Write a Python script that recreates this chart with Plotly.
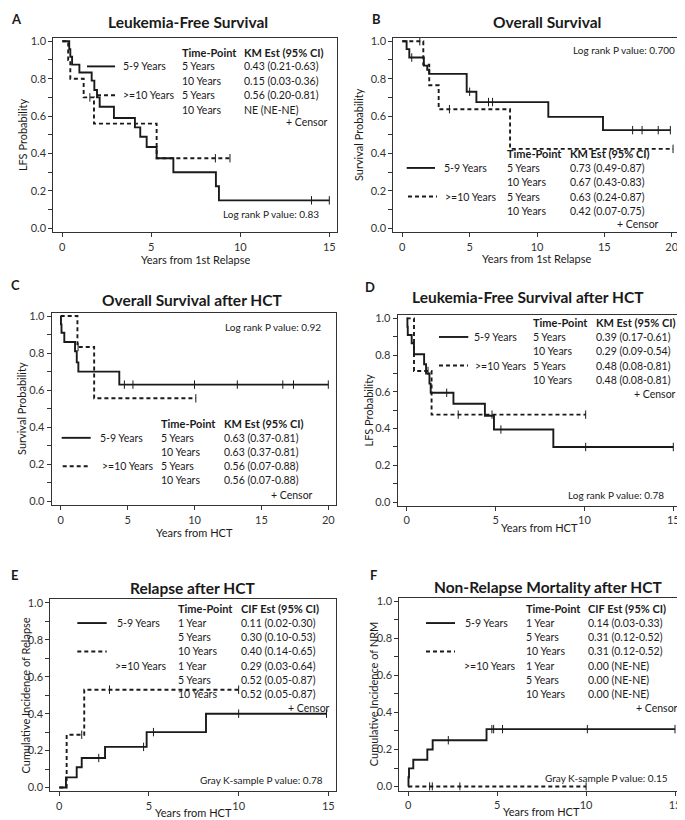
import plotly.graph_objects as go
import numpy as np

# the page body has an 8px margin, so the figure is drawn 8px in from the corner
PAGE_W, PAGE_H, OFF = 685, 820, 8
W, H = PAGE_W - OFF, PAGE_H - OFF
FONT = "Lato"
INK = "#1a1a1a"

# ---------------- data ----------------
# A: Leukemia-free survival from 1st relapse
a_solid_t = [0, 0.39, 0.45, 0.55, 0.96, 1.65, 1.8, 1.95, 2.1, 2.9, 4.08, 4.38, 4.74, 5.3, 6.24, 8.63, 8.8, 15.0]
a_solid_s = [1.0, 0.958, 0.917, 0.875, 0.833, 0.79, 0.74, 0.70, 0.65, 0.59, 0.54, 0.49, 0.435, 0.375, 0.30, 0.225, 0.15, 0.15]
a_solid_c = [14.0, 15.0]
a_dash_t = [0, 0.33, 0.45, 1.2, 1.78, 5.3, 9.42]
a_dash_s = [1.0, 0.9, 0.8, 0.7, 0.56, 0.375, 0.375]
a_dash_c = [1.55, 8.6, 9.42]

# B: Overall survival from 1st relapse
b_solid_t = [0, 0.32, 0.52, 1.6, 1.85, 2.0, 4.78, 5.5, 10.84, 14.9, 19.9]
b_solid_s = [1.0, 0.958, 0.913, 0.87, 0.848, 0.826, 0.73, 0.675, 0.596, 0.525, 0.525]
b_solid_c = [0.7, 5.0, 6.4, 6.7, 17.1, 17.8, 19.0, 19.9]
b_dash_t = [0, 1.56, 2.0, 2.7, 8.0, 20.1]
b_dash_s = [1.0, 0.875, 0.765, 0.637, 0.425, 0.425]
b_dash_c = [1.3, 3.5, 20.1]

# C: Overall survival after HCT
c_solid_t = [0, 0.02, 0.06, 0.27, 1.07, 1.2, 1.32, 4.38, 20.0]
c_solid_s = [1.0, 0.955, 0.91, 0.86, 0.81, 0.75, 0.70, 0.63, 0.63]
c_solid_c = [4.76, 5.4, 10.0, 13.2, 16.6, 17.4, 20.0]
c_dash_t = [0, 1.25, 2.5, 10.1]
c_dash_s = [1.0, 0.833, 0.556, 0.556]
c_dash_c = [1.3, 10.1]

# D: Leukemia-free survival after HCT
d_solid_t = [0, 0.04, 0.06, 0.28, 0.41, 0.98, 1.09, 1.28, 1.35, 2.63, 4.4, 4.91, 8.25, 15.0]
d_solid_s = [1.0, 0.955, 0.91, 0.865, 0.805, 0.75, 0.70, 0.645, 0.595, 0.535, 0.47, 0.395, 0.30, 0.30]
d_solid_c = [2.25, 5.3, 10.07, 15.0]
d_dash_t = [0, 0.41, 1.4, 10.07]
d_dash_s = [1.0, 0.714, 0.476, 0.476]
d_dash_c = [1.2, 2.9, 4.8, 10.07]

# E: Relapse after HCT (cumulative incidence)
e_solid_t = [0, 0.37, 0.97, 1.25, 2.55, 4.87, 8.18, 14.9]
e_solid_s = [0.0, 0.055, 0.11, 0.16, 0.22, 0.30, 0.40, 0.40]
e_solid_c = [2.2, 4.7, 5.25, 10.0, 14.9]
e_dash_t = [0, 0.41, 1.39, 10.0]
e_dash_s = [0.0, 0.286, 0.53, 0.53]
e_dash_c = [1.25, 2.8, 10.0]

# F: Non-relapse mortality after HCT (cumulative incidence)
f_solid_t = [0, 0.01, 0.04, 0.28, 1.07, 1.37, 4.4, 15.0]
f_solid_s = [0.0, 0.05, 0.098, 0.145, 0.20, 0.25, 0.31, 0.31]
f_solid_c = [2.25, 4.7, 4.8, 5.3, 10.07, 15.0]
f_dash_t = [0, 10.0]
f_dash_s = [0.0, 0.0]
f_dash_c = [1.2, 1.35, 2.9, 10.0]

group_labels = ["5-9 Years", ">=10 Years"]

km_rows_a = [["5 Years", "0.43 (0.21-0.63)"], ["10 Years", "0.15 (0.03-0.36)"],
             ["5 Years", "0.56 (0.20-0.81)"], ["10 Years", "NE (NE-NE)"]]
km_rows_b = [["5 Years", "0.73 (0.49-0.87)"], ["10 Years", "0.67 (0.43-0.83)"],
             ["5 Years", "0.63 (0.24-0.87)"], ["10 Years", "0.42 (0.07-0.75)"]]
km_rows_c = [["5 Years", "0.63 (0.37-0.81)"], ["10 Years", "0.63 (0.37-0.81)"],
             ["5 Years", "0.56 (0.07-0.88)"], ["10 Years", "0.56 (0.07-0.88)"]]
km_rows_d = [["5 Years", "0.39 (0.17-0.61)"], ["10 Years", "0.29 (0.09-0.54)"],
             ["5 Years", "0.48 (0.08-0.81)"], ["10 Years", "0.48 (0.08-0.81)"]]
cif_rows_e = [["1 Year", "0.11 (0.02-0.30)"], ["5 Years", "0.30 (0.10-0.53)"], ["10 Years", "0.40 (0.14-0.65)"],
              ["1 Year", "0.29 (0.03-0.64)"], ["5 Years", "0.52 (0.05-0.87)"], ["10 Years", "0.52 (0.05-0.87)"]]
cif_rows_f = [["1 Year", "0.14 (0.03-0.33)"], ["5 Years", "0.31 (0.12-0.52)"], ["10 Years", "0.31 (0.12-0.52)"],
              ["1 Year", "0.00 (NE-NE)"], ["5 Years", "0.00 (NE-NE)"], ["10 Years", "0.00 (NE-NE)"]]

# ---------------- layout of each panel (page pixels) ----------------
# xpx: pixel of x=0 and of the last tick; ypx: pixel of y=1.0 and y=0.0
panels = [
    dict(letter="A", title="Leukemia-Free Survival", ytitle="LFS Probability", xtitle="Years from 1st Relapse",
         xpx=(62.3, 329.3), xmax=15, ypx=(37.5, 226), xt=[0, 5, 10, 15],
         curves=[(a_solid_t, a_solid_s, a_solid_c), (a_dash_t, a_dash_s, a_dash_c)],
         letter_xy=(8.5, 15), title_xy=(188, 18), ytitle_x=22, xtitle_y=257,
         head="KM Est (95% CI)", rows=km_rows_a, hdr_y=48.3, col1=180, col2=242.3, dy=14.5,
         leg=[(87, 115, 120.7, 1), (97, 117, 120.7, 3)], censor_xy=(330, 119.3),
         pval="Log rank P value: 0.83", pval_xy=(321, 211.7)),
    dict(letter="B", title="Overall Survival", ytitle="Survival Probability", xtitle="Years from 1st Relapse",
         xpx=(402.3, 671.7), xmax=20, ypx=(37.5, 226), xt=[0, 5, 10, 15, 20],
         curves=[(b_solid_t, b_solid_s, b_solid_c), (b_dash_t, b_dash_s, b_dash_c)],
         letter_xy=(370, 15), title_xy=(547, 18), ytitle_x=358, xtitle_y=256,
         head="KM Est (95% CI)", rows=km_rows_b, hdr_y=150.7, col1=505, col2=567.7, dy=14.4,
         leg=[(406.7, 435, 441.7, 1), (408, 437, 443, 3)], censor_xy=(660.7, 222),
         pval="Log rank P value: 0.700", pval_xy=(677.3, 46.7)),
    dict(letter="C", title="Overall Survival after HCT", ytitle="Survival Probability", xtitle="Years from HCT",
         xpx=(60.7, 328.3), xmax=20, ypx=(314.3, 501), xt=[0, 5, 10, 15, 20],
         curves=[(c_solid_t, c_solid_s, c_solid_c), (c_dash_t, c_dash_s, c_dash_c)],
         letter_xy=(8.5, 283), title_xy=(192, 298), ytitle_x=22, xtitle_y=532,
         head="KM Est (95% CI)", rows=km_rows_c, hdr_y=422.7, col1=159.3, col2=221.7, dy=14.3,
         leg=[(61.7, 90.7, 98.3, 1), (62.7, 90.7, 100, 3)], censor_xy=(315, 494.3),
         pval="Log rank P value: 0.92", pval_xy=(322.7, 325)),
    dict(letter="D", title="Leukemia-Free Survival after HCT", ytitle="LFS Probability", xtitle="Years from HCT",
         xpx=(406.7, 673.3), xmax=15, ypx=(316.7, 501.7), xt=[0, 5, 10, 15],
         curves=[(d_solid_t, d_solid_s, d_solid_c), (d_dash_t, d_dash_s, d_dash_c)],
         letter_xy=(363, 285), title_xy=(528, 295), ytitle_x=368, xtitle_y=527,
         head="KM Est (95% CI)", rows=km_rows_d, hdr_y=321, col1=531, col2=594, dy=14.4,
         leg=[(439, 468.3, 471.7, 1), (439, 468, 473.3, 3)], censor_xy=(678.3, 392.7),
         pval="Log rank P value: 0.78", pval_xy=(666, 495)),
    dict(letter="E", title="Relapse after HCT", ytitle="Cumulative Incidence of Relapse", xtitle="Years from HCT",
         xpx=(59.3, 328.3), xmax=15, ypx=(603.3, 789.3), xt=[0, 5, 10, 15],
         curves=[(e_solid_t, e_solid_s, e_solid_c), (e_dash_t, e_dash_s, e_dash_c)],
         letter_xy=(8.5, 575), title_xy=(192, 588), ytitle_x=25, xtitle_y=814,
         head="CIF Est (95% CI)", rows=cif_rows_e, hdr_y=609.3, col1=175.7, col2=239, dy=14.3,
         leg=[(77.3, 106.7, 115, 1), (77.3, 106.7, 113.3, 4)], leg_dash_row=3, censor_xy=(331.7, 709.3),
         pval="Gray K-sample P value: 0.78", pval_xy=(325, 781.7)),
    dict(letter="F", title="Non-Relapse Mortality after HCT", ytitle="Cumulative Incidence of NRM", xtitle="Years from HCT",
         xpx=(408.3, 675), xmax=15, ypx=(601.7, 788.3), xt=[0, 5, 10, 15],
         curves=[(f_solid_t, f_solid_s, f_solid_c), (f_dash_t, f_dash_s, f_dash_c)],
         letter_xy=(368, 575), title_xy=(548, 587), ytitle_x=373, xtitle_y=813,
         head="CIF Est (95% CI)", rows=cif_rows_f, hdr_y=609.3, col1=524, col2=586, dy=14.3,
         leg=[(426, 455, 463.3, 1), (426, 455, 461.7, 4)], leg_dash_row=3, censor_xy=(680, 709.3),
         pval="Gray K-sample P value: 0.15", pval_xy=(670, 779.3)),
]


def px(x):
    return (x - OFF) / W


def py(y):
    return 1 - (y - OFF) / H


def text(s, x, y, size=10.5, bold=False, xanchor="left", angle=0):
    return dict(text=f"<b>{s}</b>" if bold else s, x=px(x), y=py(y), xref="paper", yref="paper",
                xanchor=xanchor, yanchor="middle", showarrow=False, textangle=angle,
                font=dict(family=FONT, size=size, color=INK))


fig = go.Figure()
annotations = []
shapes = []
dashes = ["solid", "4px,3px"]

for i, p in enumerate(panels):
    n = "" if i == 0 else str(i + 1)
    xa, ya = "x" + n, "y" + n

    # frame sits a few pixels outside the first/last ticks
    gx0, gx1 = p["xpx"]
    gy1, gy0 = p["ypx"]
    x0, x1 = gx0 - 9, gx1 + 8
    y0, y1 = gy1 - 3.5, gy0 + 4
    sx = (gx1 - gx0) / p["xmax"]
    sy = gy0 - gy1
    xr = [(x0 - gx0) / sx, (x1 - gx0) / sx]
    yr = [(gy0 - y1) / sy, (gy0 - y0) / sy]

    for k, (t, s, cens) in enumerate(p["curves"]):
        fig.add_trace(go.Scatter(x=t, y=s, mode="lines", line_shape="hv", xaxis=xa, yaxis=ya,
                                 line=dict(color=INK, width=1.9, dash=dashes[k]), showlegend=False,
                                 hoverinfo="skip"))
        idx = np.searchsorted(np.array(t), np.array(cens), side="right") - 1
        cy = np.array(s)[idx]
        fig.add_trace(go.Scatter(x=cens, y=cy, mode="markers", xaxis=xa, yaxis=ya, showlegend=False,
                                 marker=dict(symbol="line-ns", size=6, line=dict(color=INK, width=1)),
                                 hoverinfo="skip"))

    ax = dict(showline=True, mirror=True, linecolor="#333", linewidth=1,
              ticks="outside", ticklen=4, tickcolor="#333", showgrid=False, zeroline=False,
              tickfont=dict(family=FONT, size=11, color="#333"))
    fig.layout["xaxis" + n] = dict(ax, domain=[px(x0), px(x1)], range=xr, tickvals=p["xt"], anchor=ya)
    fig.layout["yaxis" + n] = dict(ax, domain=[py(y1), py(y0)], range=yr,
                                   tickvals=[0, 0.2, 0.4, 0.6, 0.8, 1.0], tickformat=".1f", anchor=xa,
                                   minor=dict(tickvals=[0.1, 0.3, 0.5, 0.7, 0.9], ticks="outside",
                                              ticklen=4, tickcolor="#333"))

    annotations.append(text(p["letter"], *p["letter_xy"], size=13, bold=True))
    annotations.append(text(p["title"], *p["title_xy"], size=15.5, bold=True, xanchor="center"))
    annotations.append(text(p["ytitle"], p["ytitle_x"], (y0 + y1) / 2, size=11, xanchor="center", angle=-90))
    annotations.append(text(p["xtitle"], (x0 + x1) / 2, p["xtitle_y"], size=11, xanchor="center"))

    # table
    annotations.append(text("Time-Point", p["col1"], p["hdr_y"], size=11, bold=True))
    annotations.append(text(p["head"], p["col2"], p["hdr_y"], size=11, bold=True))
    for r, (tp, est) in enumerate(p["rows"]):
        yy = p["hdr_y"] + (r + 1) * p["dy"]
        annotations.append(text(tp, p["col1"], yy))
        annotations.append(text(est, p["col2"], yy))
    for k, (lx0, lx1, tx, row) in enumerate(p["leg"]):
        yy = p["hdr_y"] + row * p["dy"]
        annotations.append(text(group_labels[k], tx, yy))
        line_row = p.get("leg_dash_row", row) if k == 1 else row
        ly = p["hdr_y"] + line_row * p["dy"]
        shapes.append(dict(type="line", xref="paper", yref="paper", x0=px(lx0), x1=px(lx1),
                           y0=py(ly), y1=py(ly), line=dict(color=INK, width=1.9, dash=dashes[k])))
    annotations.append(text("+ Censor", *p["censor_xy"], xanchor="right"))
    annotations.append(text(p["pval"], *p["pval_xy"], size=10, xanchor="right"))

fig.update_layout(width=W, height=H, margin=dict(l=0, r=0, t=0, b=0), plot_bgcolor="white",
                  paper_bgcolor="white", annotations=annotations, shapes=shapes,
                  font=dict(family=FONT, color=INK))

fig.write_html("out.html")
